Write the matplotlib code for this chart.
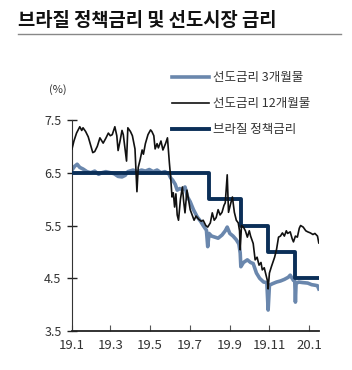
import numpy as np
import pandas as pd
import matplotlib
matplotlib.use("Agg")
import matplotlib.pyplot as plt
import matplotlib.dates as mdates

plt.rcParams['font.family'] = ['Noto Sans CJK KR', 'DejaVu Sans']

# 선도금리 12개월물
dates_12m = ["2019-01-01", "2019-01-04", "2019-01-08", "2019-01-13", "2019-01-16", "2019-01-18",
             "2019-01-22", "2019-01-26", "2019-01-29", "2019-02-02", "2019-02-05", "2019-02-09",
             "2019-02-13", "2019-02-18", "2019-02-22", "2019-02-26", "2019-03-01", "2019-03-04",
             "2019-03-08", "2019-03-11", "2019-03-13", "2019-03-16", "2019-03-19", "2019-03-21",
             "2019-03-26", "2019-03-28", "2019-04-01", "2019-04-04", "2019-04-08", "2019-04-10",
             "2019-04-11", "2019-04-13", "2019-04-16", "2019-04-19", "2019-04-21", "2019-04-24",
             "2019-04-28", "2019-05-02", "2019-05-04", "2019-05-07", "2019-05-09", "2019-05-12",
             "2019-05-14", "2019-05-18", "2019-05-21", "2019-05-25", "2019-05-28", "2019-05-31",
             "2019-06-02", "2019-06-04", "2019-06-06", "2019-06-08", "2019-06-10", "2019-06-12",
             "2019-06-14", "2019-06-17", "2019-06-20", "2019-06-22", "2019-06-24", "2019-06-27",
             "2019-06-30", "2019-07-02", "2019-07-05", "2019-07-08", "2019-07-11", "2019-07-15",
             "2019-07-19", "2019-07-22", "2019-07-26", "2019-07-29", "2019-08-02", "2019-08-05",
             "2019-08-08", "2019-08-11", "2019-08-14", "2019-08-17", "2019-08-20", "2019-08-23",
             "2019-08-25", "2019-08-28", "2019-08-30", "2019-09-02", "2019-09-05", "2019-09-08",
             "2019-09-11", "2019-09-14", "2019-09-16", "2019-09-17", "2019-09-19", "2019-09-22",
             "2019-09-25", "2019-09-28", "2019-10-01", "2019-10-03", "2019-10-07", "2019-10-10",
             "2019-10-13", "2019-10-16", "2019-10-19", "2019-10-21", "2019-10-24", "2019-10-26",
             "2019-10-29", "2019-10-30", "2019-11-01", "2019-11-04", "2019-11-06", "2019-11-09",
             "2019-11-12", "2019-11-15", "2019-11-18", "2019-11-21", "2019-11-24", "2019-11-27",
             "2019-11-29", "2019-12-03", "2019-12-06", "2019-12-08", "2019-12-11", "2019-12-14",
             "2019-12-17", "2019-12-19", "2019-12-23", "2019-12-27", "2019-12-30", "2020-01-03",
             "2020-01-07", "2020-01-10", "2020-01-14", "2020-01-16"]
rate_12m = [6.95, 7.10, 7.25, 7.37, 7.30, 7.35,
            7.28, 7.18, 7.05, 6.88, 6.90, 7.00,
            7.16, 7.06, 7.15, 7.25, 7.20, 7.22,
            7.37, 7.20, 6.92, 7.10, 7.30, 7.22,
            6.72, 7.35, 7.28, 7.20, 6.95, 6.40,
            6.14, 6.60, 6.75, 6.93, 6.85, 7.05,
            7.22, 7.31, 7.28, 7.20, 6.95, 7.05,
            6.97, 7.10, 6.93, 7.05, 7.16, 6.68,
            6.40, 6.04, 6.12, 5.85, 6.10, 5.70,
            5.60, 6.00, 6.23, 5.95, 5.74, 6.17,
            5.95, 5.80, 5.70, 5.60, 5.68, 5.62,
            5.58, 5.60, 5.50, 5.47, 5.55, 5.74,
            5.60, 5.65, 5.80, 5.70, 5.75, 5.88,
            5.93, 6.46, 5.75, 5.90, 6.04, 5.75,
            5.60, 5.55, 5.40, 5.04, 5.50, 5.47,
            5.40, 5.28, 5.40, 5.30, 5.16, 4.85,
            4.90, 4.75, 4.80, 4.66, 4.70, 4.60,
            4.45, 4.30, 4.60, 4.72, 4.79, 4.90,
            5.05, 5.28, 5.30, 5.36, 5.30, 5.40,
            5.35, 5.38, 5.25, 5.19, 5.30, 5.28,
            5.45, 5.50, 5.47, 5.40, 5.38, 5.36,
            5.33, 5.35, 5.30, 5.17]

# 선도금리 3개월물
dates_3m = ["2019-01-01", "2019-01-05", "2019-01-09", "2019-01-13", "2019-01-18", "2019-01-24",
            "2019-01-30", "2019-02-05", "2019-02-11", "2019-02-16", "2019-02-22", "2019-03-01",
            "2019-03-07", "2019-03-13", "2019-03-19", "2019-03-24", "2019-03-28", "2019-04-05",
            "2019-04-12", "2019-04-18", "2019-04-24", "2019-04-30", "2019-05-06", "2019-05-12",
            "2019-05-18", "2019-05-24", "2019-05-30", "2019-06-02", "2019-06-05", "2019-06-09",
            "2019-06-12", "2019-06-16", "2019-06-20", "2019-06-24", "2019-06-28", "2019-07-02",
            "2019-07-07", "2019-07-13", "2019-07-18", "2019-07-22", "2019-07-27", "2019-07-29",
            "2019-07-31", "2019-08-04", "2019-08-09", "2019-08-14", "2019-08-20", "2019-08-25",
            "2019-08-28", "2019-09-01", "2019-09-06", "2019-09-11", "2019-09-15", "2019-09-17",
            "2019-09-18", "2019-09-22", "2019-09-28", "2019-10-03", "2019-10-07", "2019-10-12",
            "2019-10-17", "2019-10-23", "2019-10-28", "2019-10-30", "2019-11-01", "2019-11-06",
            "2019-11-12", "2019-11-18", "2019-11-24", "2019-11-30", "2019-12-03", "2019-12-08",
            "2019-12-10", "2019-12-11", "2019-12-12", "2019-12-16", "2019-12-22", "2019-12-30",
            "2020-01-05", "2020-01-10", "2020-01-14", "2020-01-16"]
rate_3m = [6.55, 6.62, 6.66, 6.60, 6.57, 6.52,
           6.50, 6.53, 6.47, 6.50, 6.52, 6.50,
           6.48, 6.43, 6.42, 6.45, 6.52, 6.55,
           6.52, 6.55, 6.53, 6.56, 6.52, 6.55,
           6.50, 6.52, 6.48, 6.40, 6.36, 6.28,
           6.17, 6.20, 6.18, 6.23, 6.04, 5.95,
           5.80, 5.66, 5.58, 5.50, 5.41, 5.10,
           5.35, 5.30, 5.28, 5.26, 5.32, 5.40,
           5.47, 5.35, 5.30, 5.23, 5.15, 4.98,
           4.72, 4.80, 4.85, 4.80, 4.78, 4.60,
           4.50, 4.43, 4.42, 3.90, 4.37, 4.40,
           4.43, 4.45, 4.48, 4.52, 4.56, 4.46,
           4.45, 4.05, 4.40, 4.43, 4.42, 4.41,
           4.38, 4.37, 4.36, 4.30]

# 브라질 정책금리 (Selic)
dates_policy = ["2019-01-01", "2019-07-31", "2019-09-18", "2019-10-30", "2019-12-11", "2020-01-16"]
rate_policy = [6.5, 6.0, 5.5, 5.0, 4.5, 4.5]

x_ticks = ["2019-01-01", "2019-03-01", "2019-05-01", "2019-07-01", "2019-09-01", "2019-11-01", "2020-01-01"]
x_labels = ["19.1", "19.3", "19.5", "19.7", "19.9", "19.11", "20.1"]

fig = plt.figure(figsize=(3.52, 3.70), dpi=100)
ax = fig.add_axes([0.2045, 0.105, 0.703, 0.571])

ax.plot(pd.to_datetime(dates_3m), rate_3m, color="#6A87AD", lw=2.6, label="선도금리 3개월물", zorder=2)
ax.plot(pd.to_datetime(dates_policy), rate_policy, color="#0B2F58", lw=2.8,
        drawstyle="steps-post", label="브라질 정책금리", zorder=3)
ax.plot(pd.to_datetime(dates_12m), rate_12m, color="#111111", lw=1.2, label="선도금리 12개월물", zorder=4)

ax.set_ylim(3.5, 7.5)
ax.set_yticks([3.5, 4.5, 5.5, 6.5, 7.5])
ax.set_xlim(pd.Timestamp("2019-01-01"), pd.Timestamp("2020-01-17"))
ax.set_xticks(pd.to_datetime(x_ticks))
ax.set_xticklabels(x_labels)

for s in ["top", "right"]:
    ax.spines[s].set_visible(False)
ax.spines["left"].set_color("#333333")
ax.spines["bottom"].set_color("#222222")
ax.spines["bottom"].set_linewidth(1.3)
ax.tick_params(axis="y", direction="inout", length=7, width=1, colors="#222222",
               labelcolor="#333333", labelsize=9, pad=4)
ax.tick_params(axis="x", direction="in", length=4, width=0.8, colors="#555555",
               labelcolor="#333333", labelsize=9.5, pad=6)

handles, labels = ax.get_legend_handles_labels()
order = [0, 2, 1]
ax.legend([handles[i] for i in order], [labels[i] for i in order],
          loc="upper left", bbox_to_anchor=(0.47, 0.825), bbox_transform=fig.transFigure,
          frameon=False, fontsize=9, handlelength=3.0, handletextpad=0.3,
          labelspacing=1.05, borderpad=0, labelcolor="#333333")

fig.text(0.165, 0.757, "(%)", fontsize=8, color="#333333", ha="center", va="center")

fig.text(0.051, 0.945, "브라질 정책금리 및 선도시장 금리", fontsize=13.5, fontweight="bold",
         color="#111111", ha="left", va="center")
fig.add_artist(plt.Line2D([0.051, 0.97], [0.907, 0.907], color="#888888", lw=1,
                          transform=fig.transFigure))

fig.savefig("out.png", dpi=100)
